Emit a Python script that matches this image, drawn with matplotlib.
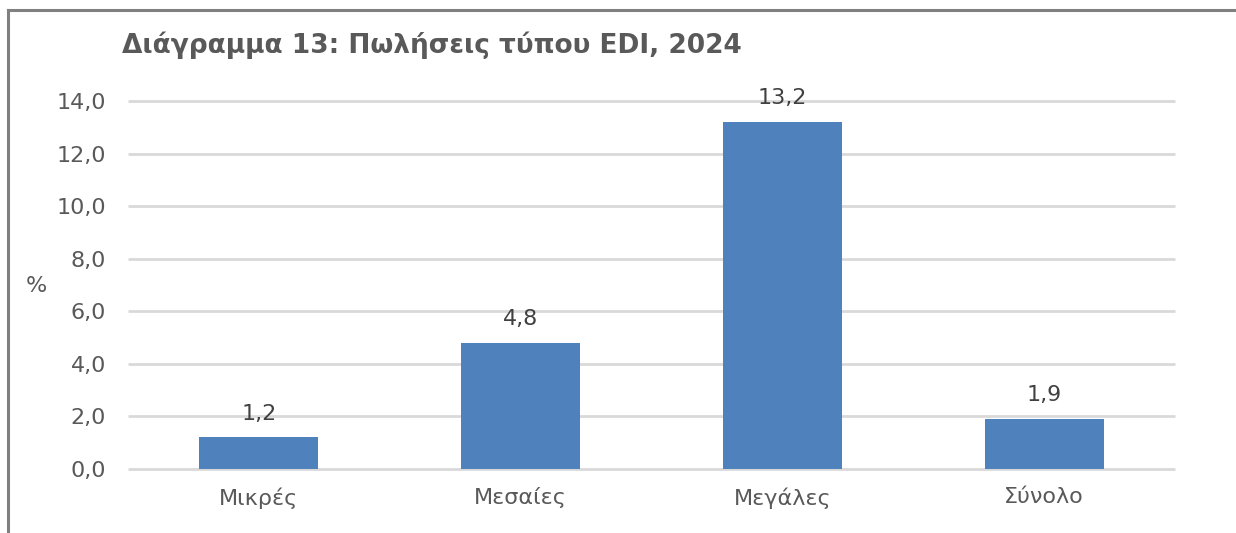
import matplotlib.pyplot as plt
from matplotlib.lines import Line2D

categories = ['Μικρές', 'Μεσαίες', 'Μεγάλες', 'Σύνολο']
values = [1.2, 4.8, 13.2, 1.9]
yticks = [0, 2, 4, 6, 8, 10, 12, 14]

text_color = '#595959'
bar_color = '#4F81BD'

fig = plt.figure(figsize=(12.36, 5.33), dpi=100)
ax = fig.add_axes([0.1036, 0.120, 0.8470, 0.6905])

x = range(len(categories))
bars = ax.bar(x, values, width=0.455, color=bar_color, zorder=3)

for xi, v in zip(x, values):
    ax.annotate(f'{v:.1f}'.replace('.', ','), (xi, v), xytext=(0, 10),
                textcoords='offset points', ha='center', va='bottom',
                fontsize=16, color='#404040')

ax.set_xlim(-0.5, len(categories) - 0.5)
ax.set_ylim(0, 14)
ax.set_yticks(yticks)
ax.set_yticklabels([f'{t:.1f}'.replace('.', ',') for t in yticks])
ax.set_xticks(list(x))
ax.set_xticklabels(categories)
ax.tick_params(axis='y', length=0, pad=16, labelsize=16, labelcolor=text_color)
ax.tick_params(axis='x', length=0, pad=13, labelsize=16, labelcolor=text_color)
ax.grid(axis='y', color='#D9D9D9', linewidth=2, zorder=0)
for gl in ax.get_ygridlines():
    gl.set_clip_on(False)
    gl.set_solid_capstyle('butt')
for s in ax.spines.values():
    s.set_visible(False)

fig.text(36 / 1236, 1 - 286 / 533, '%', fontsize=16, color=text_color,
         ha='center', va='center')
fig.text(122 / 1236, 1 - 45 / 533, 'Διάγραμμα 13: Πωλήσεις τύπου EDI, 2024',
         fontsize=19, fontweight='bold', color=text_color, ha='left', va='center')

# outer frame (only left and top edges are visible in the crop)
fig.add_artist(Line2D([7.5 / 1236, 7.5 / 1236], [0, 1 - 9.5 / 533],
                      transform=fig.transFigure, color='#808080', linewidth=2.2))
fig.add_artist(Line2D([7.5 / 1236, 1], [1 - 9.5 / 533, 1 - 9.5 / 533],
                      transform=fig.transFigure, color='#808080', linewidth=2.2))

fig.savefig('out.png', dpi=100)
